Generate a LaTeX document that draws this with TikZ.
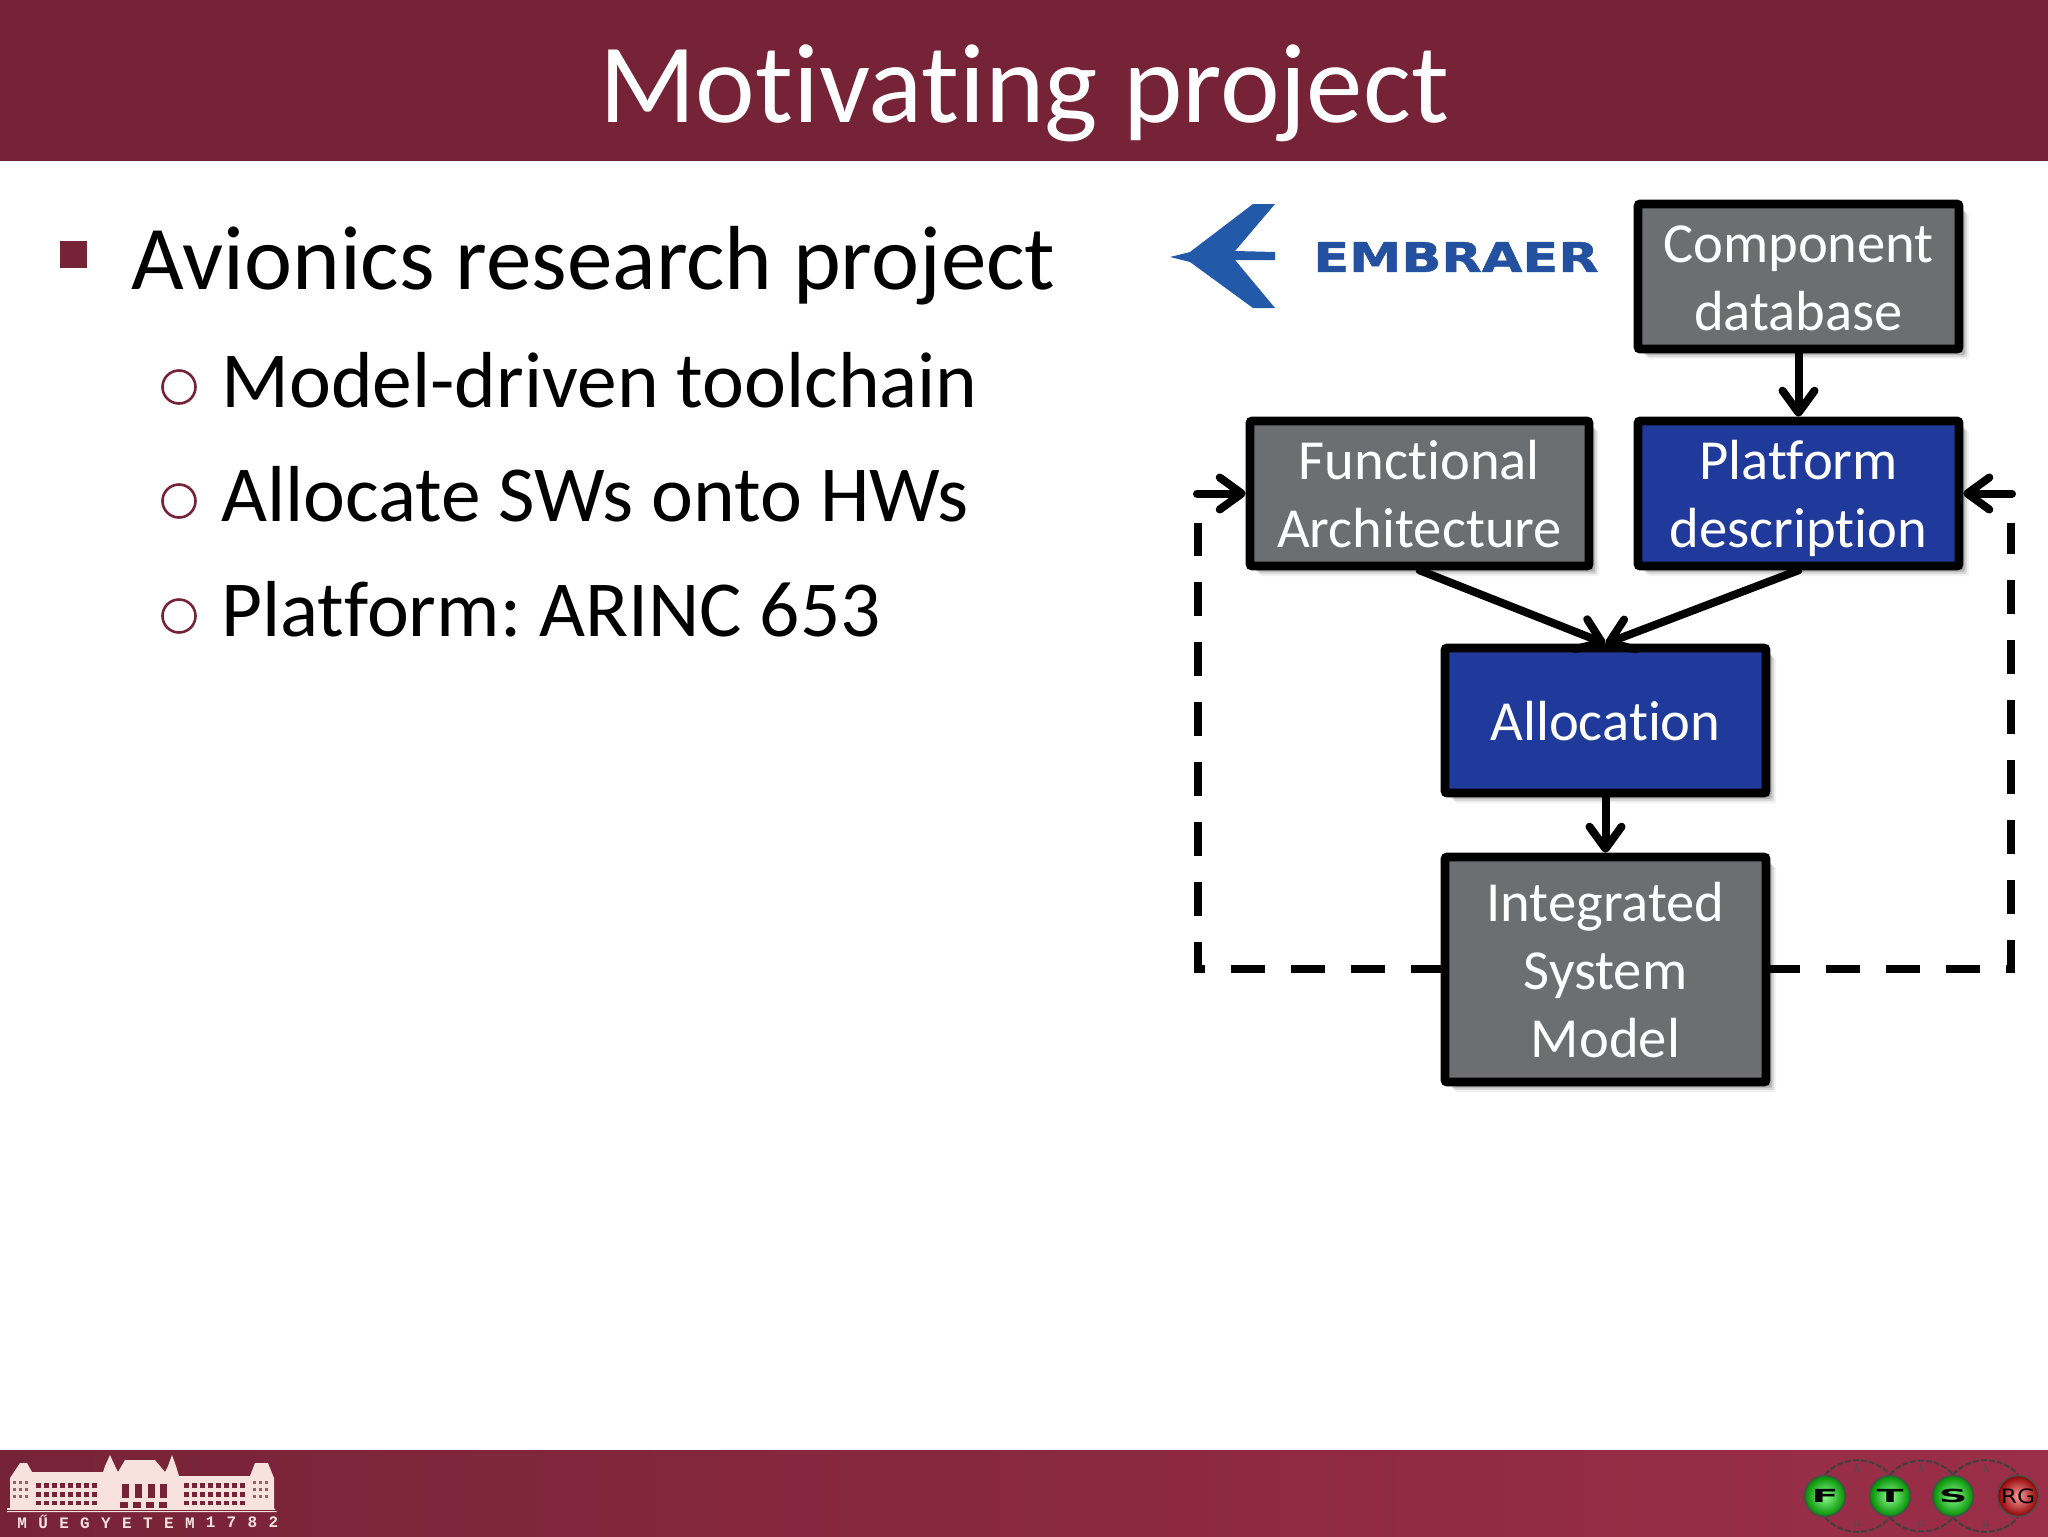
\documentclass[tikz,border=0pt]{standalone}
\usepackage{fontspec}
\setmainfont[Ligatures=NoCommon]{Carlito}
\frenchspacing
\newfontfamily\logofont{DejaVu Sans}
\newfontfamily\embfont[BoldFeatures={FakeBold=1.2}]{DejaVu Sans}
\newfontfamily\monofont[LetterSpace=71]{Liberation Mono}
\newcommand{\lineprop}{\rule[-7pt]{0pt}{34pt}}
\usetikzlibrary{arrows.meta,shadows,shadings}
\definecolor{barred}{HTML}{772337}
\definecolor{barredr}{HTML}{9B2E48}
\definecolor{boxgrey}{HTML}{6C6E70}
\definecolor{boxblue}{HTML}{1F3A9B}
\definecolor{logoblue}{HTML}{2259A8}
\definecolor{embblue}{HTML}{23509F}
\definecolor{bmepink}{HTML}{F8E2DD}
\tikzset{
  x=0.5pt,y=-0.5pt,
  softshadow/.style={
    general shadow={shadow xshift=5pt,shadow yshift=-5pt,fill=black,opacity=.05},
    general shadow={shadow xshift=4pt,shadow yshift=-4pt,fill=black,opacity=.1},
    general shadow={shadow xshift=3pt,shadow yshift=-3pt,fill=black,opacity=.15},
    general shadow={shadow xshift=2pt,shadow yshift=-2pt,fill=black,opacity=.2}},
  basebox/.style={draw=black,line width=4.3pt,rounded corners=1pt,inner sep=0pt,text=white,align=center,
    font=\fontsize{28.3}{34}\selectfont,softshadow},
  greybox/.style={basebox,fill=boxgrey},
  bluebox/.style={basebox,fill=boxblue},
  flow/.style={line width=4pt,line cap=round,-{Straight Barb[length=11pt,width=16pt,round]}},
  loopline/.style={line width=4pt,dash pattern=on 17pt off 13pt,dash phase=2pt},
  mainbullet/.style={anchor=west,text=black,font=\fontsize{45.5}{52}\selectfont,inner sep=0pt},
  subbullet/.style={anchor=west,text=black,font=\fontsize{39.7}{46}\selectfont,inner sep=0pt},
  ring/.style={draw=barred,line width=1.3pt,circle,minimum size=16.5pt,inner sep=0pt},
  statearc/.style={line width=1pt,draw=black!75,dash pattern=on 3pt off 1pt},
  ballg/.style={circle,minimum size=20.5pt,inner sep=0pt,draw=black!70,line width=.8pt,
    shading=radial,inner color=green!45!white,outer color=green!55!black,text=black,
    font=\logofont\bfseries\fontsize{9}{9}\selectfont},
  ballr/.style={ballg,inner color=red!40!white,outer color=red!55!black,
    font=\logofont\fontsize{9}{9}\selectfont},
  rateg/.style={inner sep=0pt,text=black!70,font=\logofont\fontsize{5}{5}\selectfont},
}
\begin{document}
\begin{tikzpicture}
\useasboundingbox (0,0) rectangle (2048,1536);
\fill[white] (0,0) rectangle (2048,1536);
% bars
\fill[barred] (0,0) rectangle (2048,161);
\node (title) at (1024,93) [text=white,inner sep=0pt,font=\fontsize{56.5}{60}\selectfont] {Motivating project};
\shade[left color=barred,right color=barredr] (0,1450) rectangle (2048,1536);
% bullets
\node (sq) at (73,254) [fill=barred,minimum size=13.5pt,inner sep=0pt] {};
\node (l0) at (131,266) [mainbullet] {Avionics research project};
\node (r1) at (179,387) [ring] {};
\node (l1) at (221,380) [subbullet] {Model-driven toolchain};
\node (r2) at (179,501) [ring] {};
\node (l2) at (221,494) [subbullet] {Allocate SWs onto HWs};
\node (r3) at (179,616) [ring] {};
\node (l3) at (221,609) [subbullet] {Platform: ARINC 653};
% logo
\fill[logoblue] (1170,257) -- (1190,252) -- (1253,204) -- (1275,204) -- (1235,251) -- (1275,252) -- (1275,260) -- (1235,260) -- (1275,308) -- (1253,308) -- (1190,262) -- cycle;
\node (emb) at (1456,257) [text=embblue,inner sep=0pt,xscale=1.28,transform shape,font=\embfont\bfseries\fontsize{20.5}{20.5}\selectfont] {EMBRAER};
% boxes
\node (comp) at (1798.5,276.5) [greybox,minimum width=160.5pt,minimum height=72.5pt] {\lineprop Component\\\lineprop database};
\node (func) at (1419.5,493.5) [greybox,minimum width=169.5pt,minimum height=72.5pt] {\lineprop Functional\\\lineprop Architecture};
\node (plat) at (1798.5,493.5) [bluebox,minimum width=160.5pt,minimum height=72.5pt] {\lineprop Platform\\\lineprop description};
\node (alloc) at (1605.5,720.5) [bluebox,minimum width=160.5pt,minimum height=72.5pt] {\lineprop Allocation};
\node (sys) at (1605.5,969.5) [greybox,minimum width=160.5pt,minimum height=112.5pt] {\lineprop Integrated\\\lineprop System\\\lineprop Model};
% connectors
\draw[flow] (comp.south) -- (plat.north);
\draw[flow] (func.south) -- (alloc.north);
\draw[flow] (plat.south) -- (alloc.north);
\draw[flow] (alloc.south) -- (sys.north);
\coordinate (lc) at (1198,969);
\coordinate (lt) at (1198,523);
\coordinate (la) at (1197,493.5);
\coordinate (rc) at (2011,969);
\coordinate (rt) at (2011,523);
\coordinate (ra) at (2012,493.5);
\draw[loopline] (sys.west |- lc) -- (lc) -- (lt);
\draw[loopline] (sys.east |- rc) -- (rc) -- (rt);
\draw[flow] (la) -- (func.west);
\draw[flow] (ra) -- (plat.east);
% university building
\begin{scope}
\fill[bmepink] (7,1512) -- (7,1508) -- (10,1508) -- (10,1478) -- (20,1463) -- (27,1463) -- (32,1472) -- (103,1472) -- (105,1466) -- (110,1455) -- (115,1466) -- (118,1472) -- (125,1460) -- (155,1460) -- (165,1472) -- (168,1466) -- (172,1455) -- (176,1466) -- (179,1476) -- (250,1476) -- (255,1463) -- (268,1463) -- (274,1478) -- (274,1508) -- (277,1512) -- cycle;
\foreach \bx in {36,44,...,92,184,192,...,240}{
  \fill[barred] (\bx,1483) rectangle ++(5,5);
  \fill[barred] (\bx,1492) rectangle ++(5,5);
  \fill[barred] (\bx,1501) rectangle ++(5,4);
}
\foreach \bx in {13,19,25}{
  \fill[barred!70!bmepink] (\bx,1481) rectangle ++(3,3);
  \fill[barred!70!bmepink] (\bx,1488) rectangle ++(3,3);
  \fill[barred!70!bmepink] (\bx,1495) rectangle ++(3,3);
  \fill[barred!70!bmepink] (\bx+240,1481) rectangle ++(3,3);
  \fill[barred!70!bmepink] (\bx+240,1488) rectangle ++(3,3);
  \fill[barred!70!bmepink] (\bx+240,1495) rectangle ++(3,3);
}
\foreach \bx in {122,135,148,160}{
  \fill[barred] (\bx,1484) rectangle ++(7,14);
}
\foreach \bx in {120,133,146,159}{
  \fill[barred] (\bx,1502) rectangle ++(8,6);
}
\fill[barred] (7,1510) rectangle (277,1510.8);
\end{scope}
\node (bme1) at (106,1522) [inner sep=0pt,text=bmepink,font=\monofont\bfseries\fontsize{8}{8}\selectfont] {MŰEGYETEM};
\node (bme2) at (242,1522) [inner sep=0pt,text=bmepink,font=\monofont\bfseries\fontsize{8}{8}\selectfont] {1782};
% research group logo
\node (bf) at (1825,1496) [ballg] {\scalebox{2.2}[1]{F}};
\node (bt) at (1890,1496) [ballg] {\scalebox{2.2}[1]{T}};
\node (bs) at (1953,1496) [ballg] {\scalebox{2.2}[1]{S}};
\node (brg) at (2018,1496) [ballr] {\scalebox{1.3}[1.1]{RG}};
\draw[statearc] (bf.north) to[out=50,in=130] (bt.north);
\draw[statearc] (bt.north) to[out=50,in=130] (bs.north);
\draw[statearc] (bs.north) to[out=50,in=130] (brg.north);
\draw[statearc] (bf.south) to[out=-50,in=-130] (bt.south);
\draw[statearc] (bt.south) to[out=-50,in=-130] (bs.south);
\draw[statearc] (bs.south) to[out=-50,in=-130] (brg.south);
\node (la1) at (1857,1469) [rateg] {λ};
\node (la2) at (1921,1469) [rateg] {λ};
\node (la3) at (1986,1469) [rateg] {λ};
\node (mu1) at (1857,1525) [rateg] {μ};
\node (mu2) at (1921,1525) [rateg] {μ};
\node (mu3) at (1986,1525) [rateg] {μ};
\end{tikzpicture}
\end{document}
